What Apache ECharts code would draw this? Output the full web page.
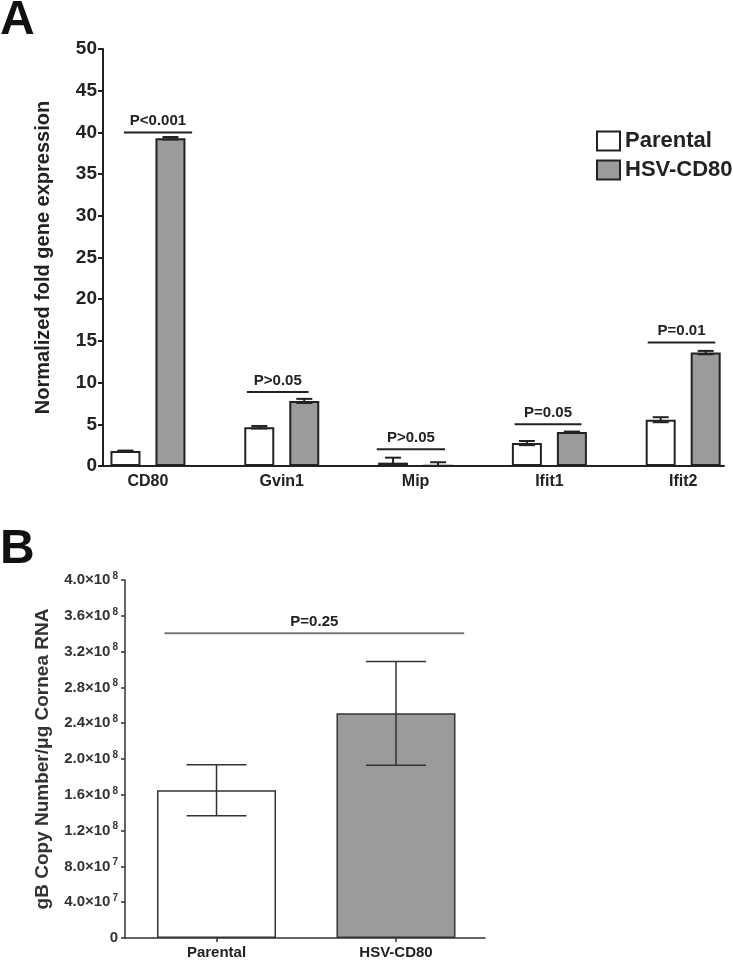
<!DOCTYPE html>
<html><head><meta charset="utf-8">
<script src="https://cdn.jsdelivr.net/npm/echarts@6/dist/echarts.min.js"></script>
<style>html,body{margin:0;padding:0;background:#fff}#c{width:733px;height:960px}</style>
</head><body><div id="c"></div>
<script>
// ---------- Panel A data ----------
const genes = ['CD80', 'Gvin1', 'Mip', 'Ifit1', 'Ifit2'];
const parentalA = [1.8, 4.65, 0.4, 2.75, 5.55];
const parentalAErr = [0.05, 0.15, 0.6, 0.25, 0.3];
const hsvA = [39.3, 7.8, 0.05, 4.08, 13.6];
const hsvAErr = [0.15, 0.25, 0.4, 0.05, 0.2];
const sigAY = [40.0, 8.87, 2.0, 5.0, 14.8];
const sigALabels = ['P<0.001', 'P>0.05', 'P>0.05', 'P=0.05', 'P=0.01'];
const sigASpan = [[-0.18, 0.33], [-0.26, 0.2], [-0.29, 0.22], [-0.26, 0.24], [-0.265, 0.24]];
// ---------- Panel B data ----------
const groupsB = ['Parental', 'HSV-CD80'];
const valuesB = [1.65e8, 2.51e8];
const errB = [0.285e8, 0.58e8];
const sigBY = [3.405e8];
const sigBLabels = ['P=0.25'];
const sigBSpan = [[-0.29, 1.38]];

const FONT = '"Liberation Sans", Arial, Helvetica, sans-serif';
const WHITE = '#ffffff', GRAY = '#9b9b9b', DARK = '#222222';
const BAR_W = 30, BAR_GAP = 15;
const OFF = (BAR_W + BAR_GAP) / 2;

function errRender(offsetPx, capHalf, lw, color) {
  return function (params, api) {
    const x = api.value(0), y = api.value(1), e = api.value(2);
    const lo = Math.max(0, y - e), hi = y + e;
    const pHi = api.coord([x, hi]), pLo = api.coord([x, lo]);
    const cx = pHi[0] + offsetPx;
    const style = { stroke: color, lineWidth: lw };
    const ch = [
      { type: 'line', shape: { x1: cx, y1: pHi[1], x2: cx, y2: pLo[1] }, style },
      { type: 'line', shape: { x1: cx - capHalf, y1: pHi[1], x2: cx + capHalf, y2: pHi[1] }, style }
    ];
    if (y - e > 0) ch.push({ type: 'line', shape: { x1: cx - capHalf, y1: pLo[1], x2: cx + capHalf, y2: pLo[1] }, style });
    return { type: 'group', children: ch };
  };
}
function sigRender(labels, color, lw) {
  return function (params, api) {
    const x0 = api.value(0), x1 = api.value(1), y = api.value(2);
    const a = api.coord([x0, y]), b = api.coord([x1, y]);
    return { type: 'group', children: [
      { type: 'line', shape: { x1: a[0], y1: a[1], x2: b[0], y2: b[1] }, style: { stroke: color, lineWidth: lw } },
      { type: 'text', x: (a[0] + b[0]) / 2, y: a[1] - 4,
        style: { text: labels[params.dataIndex], font: 'bold 15px ' + FONT, fill: DARK, align: 'center', verticalAlign: 'bottom' } }
    ] };
  };
}
function sciLabel(v) {
  if (v === 0) return '{m|0}';
  const ex = Math.floor(Math.log10(v) + 1e-9);
  const m = (v / Math.pow(10, ex)).toFixed(1);
  return '{m|' + m + '×10}{s|' + ex + '}';
}

const chart = echarts.init(document.getElementById('c'), null, { renderer: 'canvas' });
const option = {
  animation: false,
  backgroundColor: '#ffffff',
  textStyle: { fontFamily: FONT },
  graphic: [
    { type: 'text', left: 0, top: -3, style: { text: 'A', font: 'bold 48px ' + FONT, fill: '#111' } },
    { type: 'text', left: 0, top: 526, style: { text: 'B', font: 'bold 48px ' + FONT, fill: '#111' } }
  ],
  legend: {
    data: ['Parental', 'HSV-CD80'],
    orient: 'vertical', left: 591, top: 125,
    itemWidth: 23, itemHeight: 19, itemGap: 7, icon: 'rect',
    textStyle: { fontSize: 22, fontWeight: 'bold', color: DARK, fontFamily: FONT }
  },
  grid: [
    { left: 103, top: 49, width: 621, height: 417 },
    { left: 125, top: 580, width: 360, height: 359 }
  ],
  xAxis: [
    { gridIndex: 0, type: 'value', min: -0.336, max: 4.305,
      axisLine: { show: true, onZero: false, lineStyle: { color: DARK, width: 2 } },
      axisTick: { show: false }, splitLine: { show: false },
      axisLabel: { customValues: [0, 1, 2, 3, 4], formatter: v => genes[Math.round(v)] || '',
        fontSize: 16, fontWeight: 'bold', color: DARK, margin: 8, fontFamily: FONT } },
    { gridIndex: 1, type: 'value', min: -0.51, max: 1.496,
      axisLine: { show: true, onZero: false, lineStyle: { color: '#333', width: 1.5 } },
      axisTick: { show: true, customValues: [0, 1], length: 4, lineStyle: { color: '#333', width: 1.5 } },
      splitLine: { show: false },
      axisLabel: { customValues: [0, 1], formatter: v => groupsB[Math.round(v)] || '',
        fontSize: 15, fontWeight: 'bold', color: DARK, margin: 7, fontFamily: FONT } }
  ],
  yAxis: [
    { gridIndex: 0, type: 'value', min: 0, max: 50, interval: 5,
      name: 'Normalized fold gene expression', nameLocation: 'middle', nameGap: 50,
      nameTextStyle: { fontSize: 20, fontWeight: 'bold', color: DARK, fontFamily: FONT },
      axisLine: { show: true, onZero: false, lineStyle: { color: DARK, width: 2 } },
      axisTick: { show: true, length: 5, lineStyle: { color: DARK, width: 2 } },
      splitLine: { show: false },
      axisLabel: { fontSize: 19, fontWeight: 'bold', color: DARK, margin: 6, fontFamily: FONT } },
    { gridIndex: 1, type: 'value', min: 0, max: 4e8, interval: 4e7,
      name: 'gB Copy Number/μg Cornea RNA', nameLocation: 'middle', nameGap: 73,
      nameTextStyle: { fontSize: 19, fontWeight: 'bold', color: '#333', fontFamily: FONT },
      axisLine: { show: true, onZero: false, lineStyle: { color: '#333', width: 1.5 } },
      axisTick: { show: true, length: 4, lineStyle: { color: '#333', width: 1.5 } },
      splitLine: { show: false },
      axisLabel: { formatter: sciLabel, margin: 7, color: '#333',
        rich: {
          m: { fontSize: 15, fontWeight: 'bold', color: '#333', fontFamily: FONT },
          s: { fontSize: 10, fontWeight: 'bold', color: '#333', fontFamily: FONT, padding: [0, 0, 8, 2] }
        } } }
  ],
  series: [
    { name: 'Parental', type: 'bar', xAxisIndex: 0, yAxisIndex: 0, barWidth: BAR_W, barGap: '50%',
      data: parentalA.map((v, i) => [i, v]),
      itemStyle: { color: WHITE, borderColor: DARK, borderWidth: 2 } },
    { name: 'HSV-CD80', type: 'bar', xAxisIndex: 0, yAxisIndex: 0, barWidth: BAR_W, barGap: '50%',
      data: hsvA.map((v, i) => [i, v]),
      itemStyle: { color: GRAY, borderColor: DARK, borderWidth: 2 } },
    { name: 'errParental', type: 'custom', xAxisIndex: 0, yAxisIndex: 0, z: 5, clip: false,
      renderItem: errRender(-OFF, 8, 2, DARK), encode: { x: 0, y: 1 },
      data: parentalA.map((v, i) => [i, v, parentalAErr[i]]) },
    { name: 'errHSV', type: 'custom', xAxisIndex: 0, yAxisIndex: 0, z: 5, clip: false,
      renderItem: errRender(OFF, 8, 2, DARK), encode: { x: 0, y: 1 },
      data: hsvA.map((v, i) => [i, v, hsvAErr[i]]) },
    { name: 'sigA', type: 'custom', xAxisIndex: 0, yAxisIndex: 0, z: 5, clip: false,
      renderItem: sigRender(sigALabels, DARK, 2), encode: { x: [0, 1], y: 2 },
      data: sigAY.map((y, i) => [i + sigASpan[i][0], i + sigASpan[i][1], y]) },
    { name: 'gB', type: 'bar', xAxisIndex: 1, yAxisIndex: 1, barWidth: 119,
      data: valuesB.map((v, i) => ({ value: [i, v], itemStyle: { color: i === 0 ? WHITE : GRAY } })),
      itemStyle: { borderColor: '#333', borderWidth: 1.5 } },
    { name: 'errB', type: 'custom', xAxisIndex: 1, yAxisIndex: 1, z: 5, clip: false,
      renderItem: errRender(0, 30, 1.5, '#333'), encode: { x: 0, y: 1 },
      data: valuesB.map((v, i) => [i, v, errB[i]]) },
    { name: 'sigB', type: 'custom', xAxisIndex: 1, yAxisIndex: 1, z: 5, clip: false,
      renderItem: sigRender(sigBLabels, '#777', 2), encode: { x: [0, 1], y: 2 },
      data: sigBY.map((y, i) => [sigBSpan[i][0], sigBSpan[i][1], y]) }
  ]
};
chart.setOption(option);
</script>
</body></html>
